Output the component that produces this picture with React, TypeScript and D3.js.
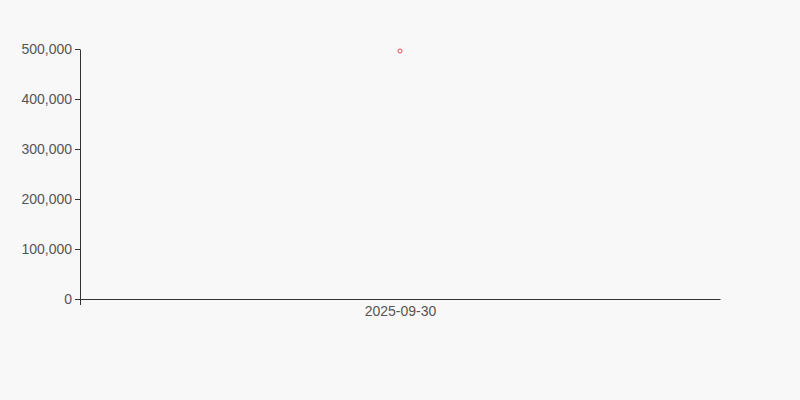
import { useEffect, useRef } from 'react';
import * as d3 from 'd3';

const dates = ['2025-09-30'];
const values = [496000];
const yTicks = [0, 100000, 200000, 300000, 400000, 500000];

export default function App() {
  const svgRef = useRef<SVGSVGElement>(null);

  useEffect(() => {
    if (!svgRef.current) return;

    document.body.style.margin = '0';
    document.body.style.background = '#f8f8f8';

    const width = 800;
    const height = 400;
    const margin = { top: 49, right: 80, bottom: 101, left: 80 };
    const innerWidth = width - margin.left - margin.right;
    const innerHeight = height - margin.top - margin.bottom;

    d3.select(svgRef.current).selectAll('*').remove();

    const svg = d3
      .select(svgRef.current)
      .attr('width', width)
      .attr('height', height)
      .style('display', 'block')
      .style('background', '#f8f8f8');

    const g = svg
      .append('g')
      .attr('transform', `translate(${margin.left},${margin.top})`);

    const x = d3.scalePoint<string>().domain(dates).range([0, innerWidth]).padding(0.5);
    const y = d3.scaleLinear().domain([0, 500000]).range([innerHeight, 0]);

    // x axis: plain baseline, label only
    const xAxis = g
      .append('g')
      .attr('transform', `translate(0,${innerHeight})`)
      .call(d3.axisBottom(x).tickSize(0).tickSizeOuter(0).tickPadding(7));
    xAxis.select('.domain').attr('stroke', '#333');
    xAxis
      .selectAll('text')
      .attr('fill', '#555')
      .style('font-family', '"Liberation Sans", Arial, sans-serif')
      .style('font-size', '14px');

    // small tick under the origin
    xAxis
      .append('line')
      .attr('x1', 0.5)
      .attr('x2', 0.5)
      .attr('y1', 0)
      .attr('y2', 6)
      .attr('stroke', '#333');

    const yAxis = g
      .append('g')
      .call(
        d3
          .axisLeft(y)
          .tickValues(yTicks)
          .tickSize(5)
          .tickSizeOuter(0)
          .tickPadding(3)
          .tickFormat((d) => d3.format(',')(d as number)),
      );
    yAxis.select('.domain').attr('stroke', '#333');
    yAxis.selectAll('.tick line').attr('stroke', '#333');
    yAxis
      .selectAll('text')
      .attr('fill', '#555')
      .style('font-family', '"Liberation Sans", Arial, sans-serif')
      .style('font-size', '14px');

    g.selectAll('.pt')
      .data(dates.map((d, i) => ({ date: d, value: values[i] })))
      .join('circle')
      .attr('class', 'pt')
      .attr('cx', (d) => x(d.date) ?? 0)
      .attr('cy', (d) => y(d.value))
      .attr('r', 2)
      .attr('fill', '#fff')
      .attr('stroke', '#e0474c')
      .attr('stroke-width', 1);
  }, []);

  return <svg ref={svgRef} />;
}
